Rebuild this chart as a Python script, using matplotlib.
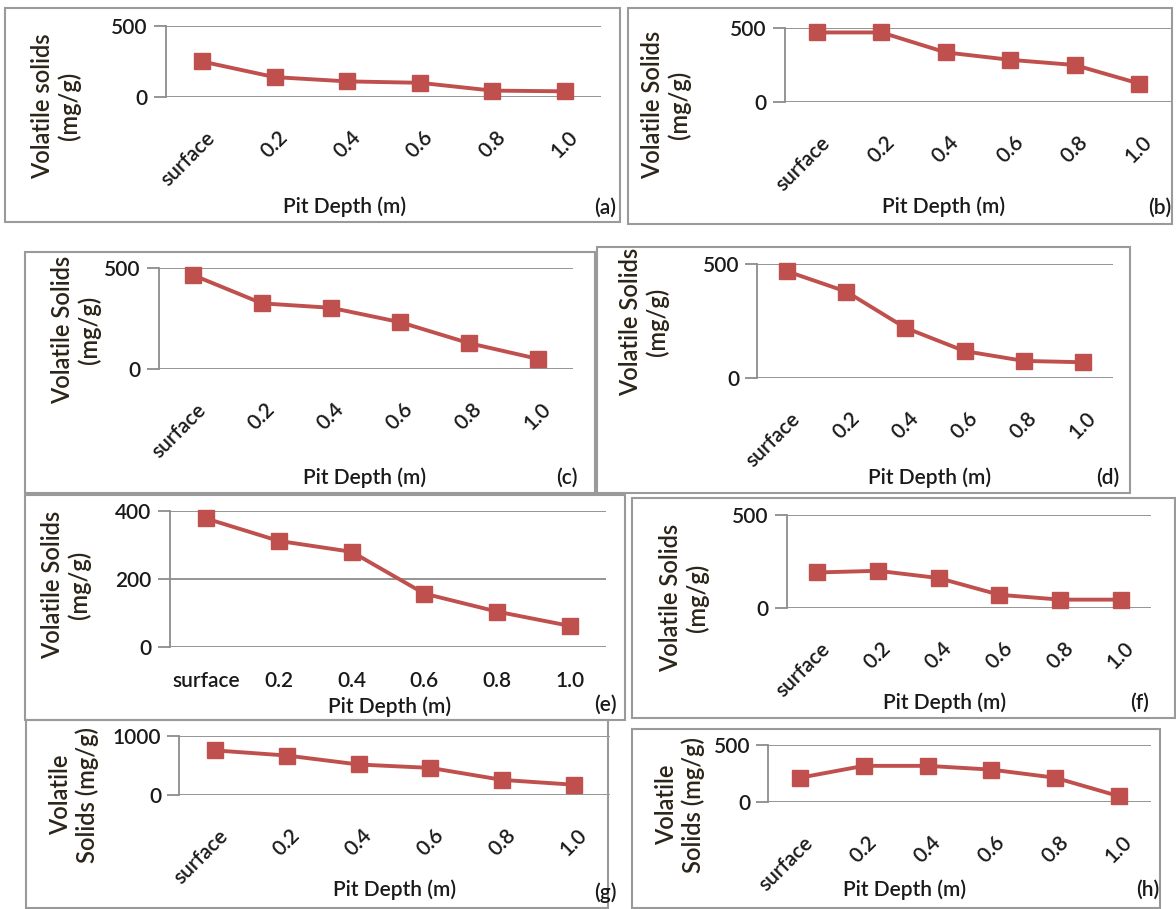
import matplotlib
matplotlib.use("Agg")
import matplotlib.pyplot as plt
from matplotlib.patches import Rectangle
import matplotlib.transforms as mtransforms

plt.rcParams['font.family'] = ['Lato', 'DejaVu Sans']

depths = ["surface", "0.2", "0.4", "0.6", "0.8", "1.0"]

vs_a = [250, 140, 110, 100, 45, 40]
vs_b = [470, 470, 335, 285, 250, 125]
vs_c = [465, 325, 303, 232, 128, 50]
vs_d = [468, 379, 220, 118, 75, 69]
vs_e = [378, 312, 280, 157, 104, 62]
vs_f = [191, 200, 161, 71, 45, 45]
vs_g = [756, 669, 517, 459, 256, 174]
vs_h = [213, 317, 317, 284, 213, 51]

ylabels = ["Volatile solids\n(mg/g)", "Volatile Solids\n(mg/g)", "Volatile Solids\n(mg/g)",
           "Volatile Solids\n(mg/g)", "Volatile Solids\n(mg/g)", "Volatile Solids\n(mg/g)",
           "Volatile\nSolids (mg/g)", "Volatile\nSolids (mg/g)"]
tags = ["(a)", "(b)", "(c)", "(d)", "(e)", "(f)", "(g)", "(h)"]
yticks_all = [[0, 500], [0, 500], [0, 500], [0, 500], [0, 200, 400], [0, 500], [0, 1000], [0, 500]]

W, H = 1176, 909
red = "#C0504D"
grey = "#8c8c8c"
txt = "#1a1a1a"

# layout in pixels: top gridline y, zero y, first point x, last point x
layout = [
    (26, 97, 202, 565),
    (28, 102, 817, 1139),
    (268, 369, 193, 538),
    (264, 378, 787, 1083),
    (511, 647, 206, 570),
    (515, 608, 817, 1121),
    (736, 795, 215, 574),
    (745, 802, 800, 1119),
]
# boxes: x0, y0, x1, y1
boxes = [(5, 8, 620, 222), (628, 8, 1172, 224), (25, 252, 595, 493), (597, 247, 1130, 493),
         (25, 495, 625, 720), (632, 498, 1175, 718), (26, 720, 608, 908), (632, 729, 1160, 908)]
# text centres: ylabel, xlabel, tag
labels_pos = [
    ((56, 106), (345, 207), (605, 208)),
    ((666, 105), (944, 207), (1160, 208)),
    ((76, 330), (365, 478), (567, 478)),
    ((644, 322), (930, 478), (1108, 478)),
    ((66, 585), (390, 707), (605, 705)),
    ((684, 598), (945, 703), (1140, 703)),
    ((74, 795), (395, 890), (605, 893)),
    ((680, 805), (905, 890), (1148, 890)),
]

series = [vs_a, vs_b, vs_c, vs_d, vs_e, vs_f, vs_g, vs_h]

fig = plt.figure(figsize=(W / 100, H / 100), dpi=100)

def fx(px):
    return px / W

def fy(py):
    return 1 - py / H

for x0, y0, x1, y1 in boxes:
    fig.add_artist(Rectangle((fx(x0), fy(y1)), fx(x1 - x0), (y1 - y0) / H,
                             transform=fig.transFigure, fill=False, edgecolor="#9a9a9a", lw=1.5))

for i in range(8):
    top, zero, p0, p5 = layout[i]
    sp = (p5 - p0) / 5.0
    ax_x = p0 - sp / 2
    right = p5 + sp / 2
    ax = fig.add_axes([fx(ax_x), fy(zero), fx(right - ax_x), (zero - top) / H])
    ax.set_xlim(-0.5, 5.5)
    yt = yticks_all[i]
    ax.set_ylim(0, yt[-1])
    ax.plot(range(6), series[i], color=red, lw=2.8, marker="s", ms=12,
            clip_on=False, zorder=3)
    ax.set_yticks(yt)
    ax.set_yticklabels([str(v) for v in yt], fontsize=15, color=txt, fontweight="semibold")
    ax.set_xticks(range(6))
    if i == 4:
        ax.set_xticklabels(depths, fontsize=15, color=txt, fontweight="semibold")
        ax.tick_params(axis="x", length=0, pad=17)
    else:
        ax.set_xticklabels(depths, fontsize=15, color=txt, rotation=45, fontweight="semibold",
                           ha="right", rotation_mode="anchor")
        ax.tick_params(axis="x", length=0, pad=22)
        offset = mtransforms.ScaledTranslation(0.03, 0, fig.dpi_scale_trans)
        for lab in ax.get_xticklabels():
            lab.set_transform(lab.get_transform() + offset)
    ax.tick_params(axis="y", length=9, width=1.3, color=grey, pad=4)
    ax.grid(axis="y", color=grey, lw=1.3)
    ax.set_axisbelow(True)
    for s in ["top", "right", "bottom"]:
        ax.spines[s].set_visible(False)
    ax.spines["left"].set_color(grey)
    ax.spines["left"].set_linewidth(1.3)
    ax.patch.set_visible(False)

    (ylx, yly), (xlx, xly), (tx, ty) = labels_pos[i]
    fig.text(fx(ylx), fy(yly), ylabels[i], rotation=90, ha="center", va="center",
             fontsize=17, color="#2b2418", linespacing=1.15, fontweight="semibold")
    fig.text(fx(xlx), fy(xly), "Pit Depth (m)", ha="center", va="center",
             fontsize=15, color=txt, fontweight="semibold")
    fig.text(fx(tx), fy(ty), tags[i], ha="center", va="center", fontsize=15, color=txt,
             fontweight="semibold")

fig.savefig("out.png", dpi=100)
